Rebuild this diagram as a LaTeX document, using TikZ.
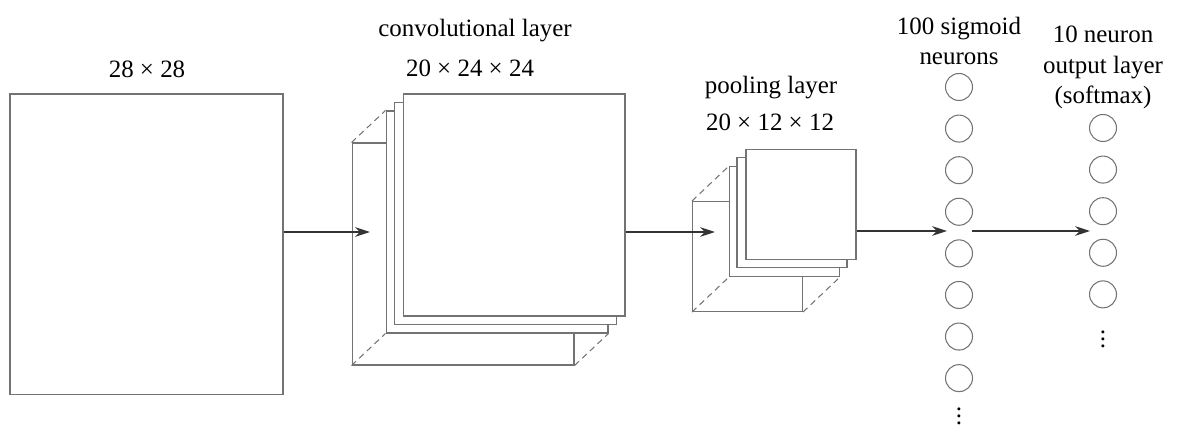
\documentclass[tikz,border=0pt]{standalone}
\usepackage{fontspec}
\setmainfont{Liberation Serif}
\usetikzlibrary{arrows.meta, positioning}
\tikzstyle{sheet} = [rectangle, draw=black!55, fill=white, line width=0.6pt, inner sep=0pt]
\tikzstyle{bigsheet} = [sheet, minimum width=4.44cm, minimum height=4.44cm]
\tikzstyle{smallsheet} = [sheet, minimum width=2.2cm, minimum height=2.2cm]
\tikzstyle{hidden} = [draw=black!55, line width=0.6pt, dash pattern=on 3.5pt off 2.5pt]
\tikzstyle{neuron} = [circle, draw=black!55, line width=0.6pt, minimum size=0.54cm, inner sep=0pt]
\tikzstyle{caption} = [font=\fontsize{14.2}{17.5}\selectfont, align=center, text=black, inner sep=0pt]
\tikzstyle{arrow} = [line width=0.7pt, draw=black!80, -{Stealth[length=8.5pt, width=5.5pt]}]

\begin{document}
\begin{tikzpicture}[x=0.02cm, y=-0.02cm, node distance=0.832cm]
        \useasboundingbox (0,0) rectangle (1179,425);

        % Input image
        \node (input) [sheet, minimum width=5.46cm, minimum height=6.02cm] at (146.5,244.5) {};
        \node (lin) [caption] at (147,69) {28 × 28};

        % Convolutional layer
        \node (convback) [bigsheet] at (463,254) {};
        \node (conv3) [bigsheet] at (497,222) {};
        \node (conv2) [bigsheet] at (505.5,213.5) {};
        \node (conv1) [bigsheet] at (514,205) {};
        \draw [hidden] (convback.north west) -- (conv3.north west);
        \draw [hidden] (convback.south west) -- (conv3.south west);
        \draw [hidden] (convback.south east) -- (conv3.south east);
        \node (lconv) [caption] at (475,31) {convolutional layer};
        \node (lconvsize) [caption] at (470,68) {20 × 24 × 24};

        % Pooling layer
        \node (poolback) [smallsheet] at (747.5,256.5) {};
        \node (pool3) [smallsheet] at (784.5,221.5) {};
        \node (pool2) [smallsheet] at (792,212.5) {};
        \node (pool1) [smallsheet] at (801,204.5) {};
        \draw [hidden] (poolback.north west) -- (pool3.north west);
        \draw [hidden] (poolback.south west) -- (pool3.south west);
        \draw [hidden] (poolback.south east) -- (pool3.south east);
        \node (lpool) [caption] at (771,88) {pooling layer};
        \node (lpoolsize) [caption] at (770,122) {20 × 12 × 12};

        % Hidden layer
        \node (h1) [neuron] at (959,87) {};
        \node (h2) [neuron, below of=h1] {};
        \node (h3) [neuron, below of=h2] {};
        \node (h4) [neuron, below of=h3] {};
        \node (h5) [neuron, below of=h4] {};
        \node (h6) [neuron, below of=h5] {};
        \node (h7) [neuron, below of=h6] {};
        \node (h8) [neuron, below of=h7] {};
        \node (hdots) [caption] at (959,411) {$\vdots$};
        \node (lhid) [caption] at (959,41) {100 sigmoid\\neurons};

        % Output layer
        \node (o1) [neuron] at (1103,128) {};
        \node (o2) [neuron, below of=o1] {};
        \node (o3) [neuron, below of=o2] {};
        \node (o4) [neuron, below of=o3] {};
        \node (o5) [neuron, below of=o4] {};
        \node (odots) [caption] at (1103,334) {$\vdots$};
        \node (lout) [caption] at (1103,67.5) {10 neuron\\output layer\\(softmax)};

        % Arrows
        \coordinate (convin) at (370,232);
        \coordinate (poolin) at (715,232);
        \coordinate (hidin) at (947,231);
        \coordinate (hidout) at (972,231);
        \coordinate (outin) at (1090,231);
        \draw [arrow] (input.east |- convin) -- (convin);
        \draw [arrow] (conv1.east |- poolin) -- (poolin);
        \draw [arrow] (pool1.east |- hidin) -- (hidin);
        \draw [arrow] (hidout) -- (outin);
    \end{tikzpicture}
\end{document}
